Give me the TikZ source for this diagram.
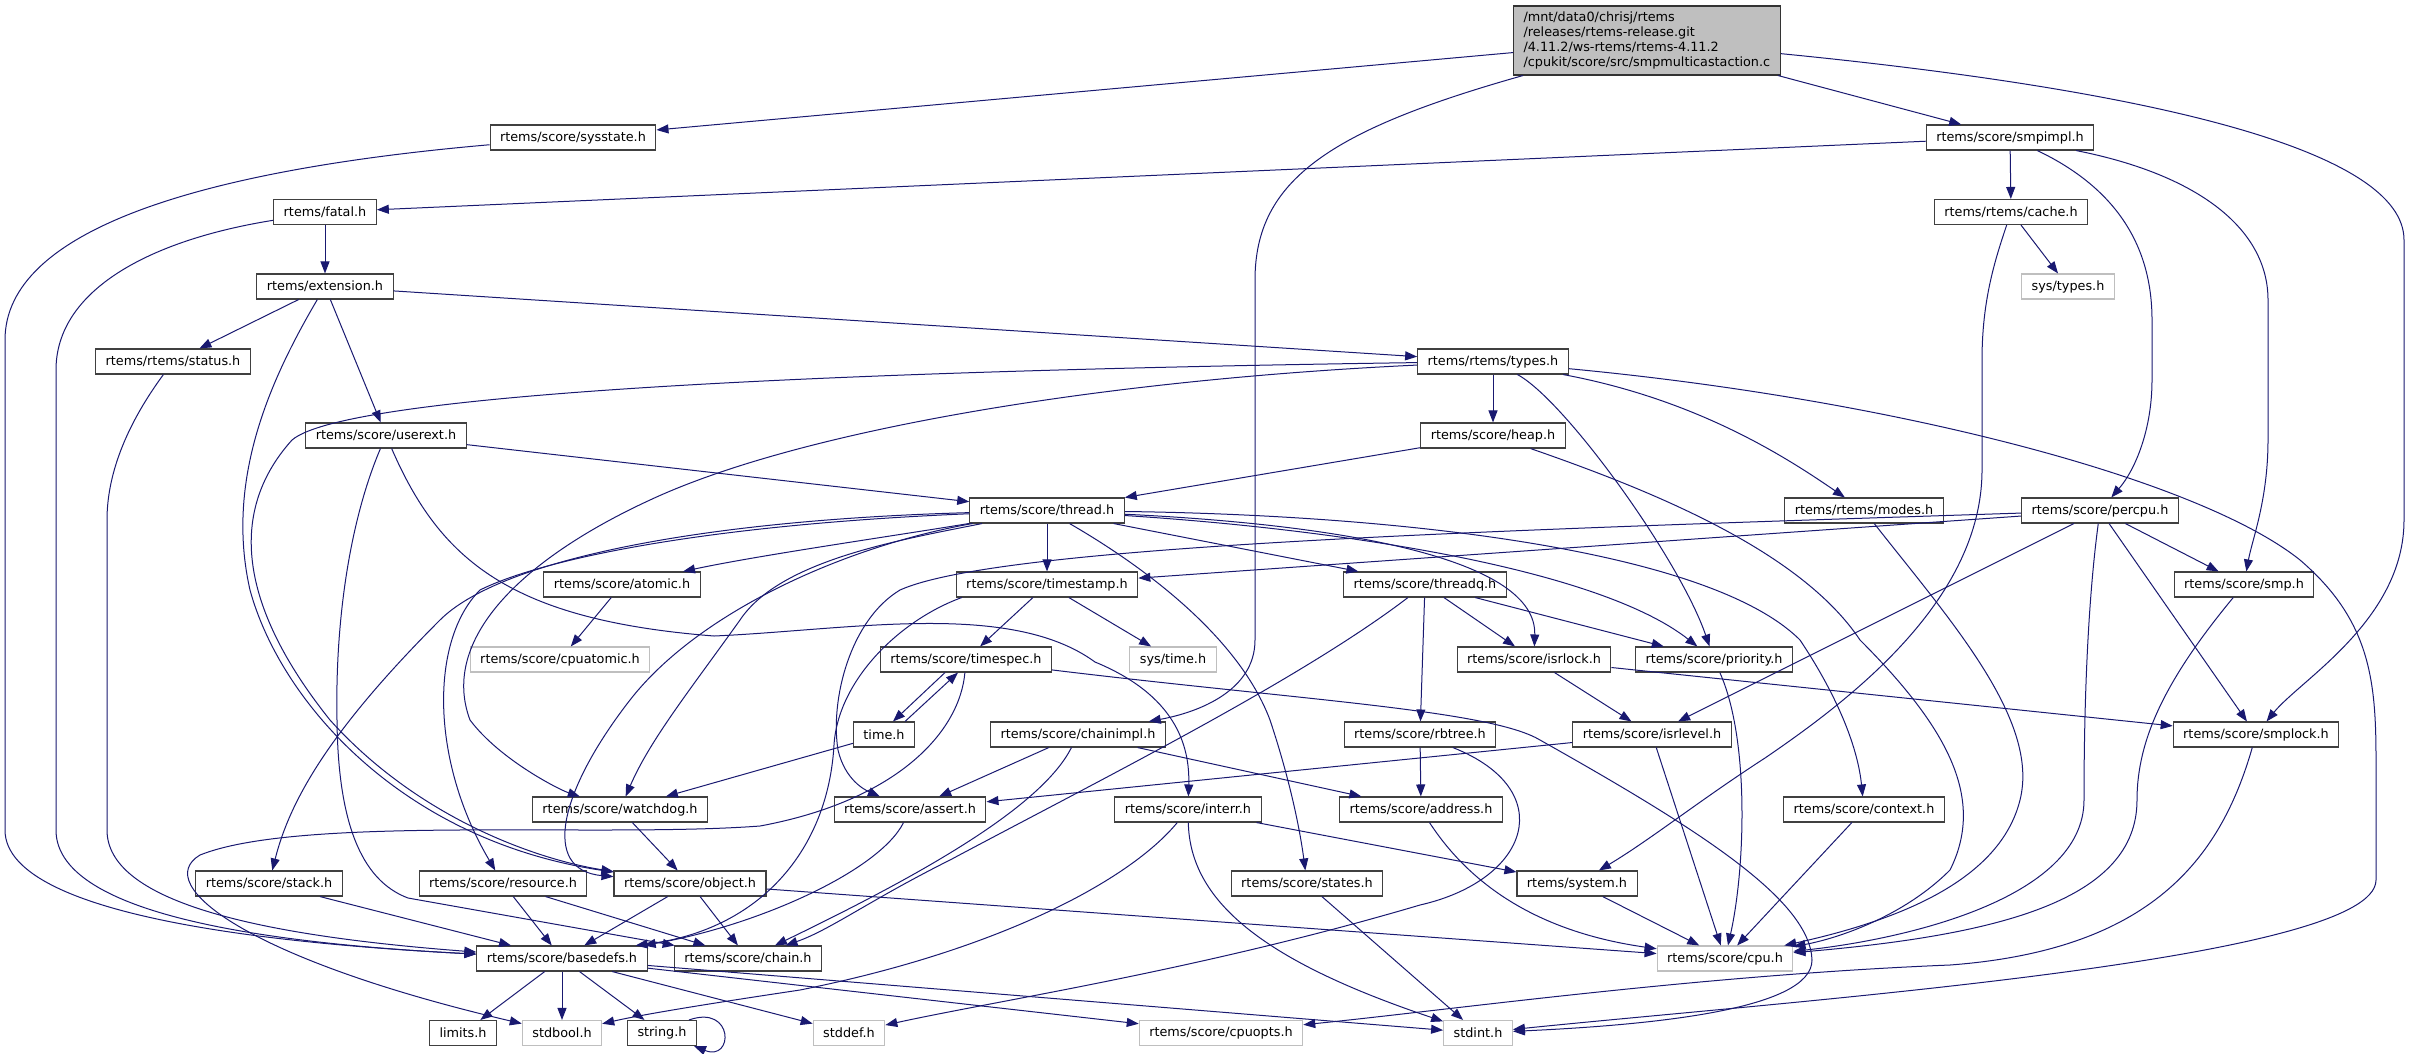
\documentclass[tikz,border=0pt]{standalone}
\usepackage{fontspec}
\setmainfont{DejaVu Sans}
\usepackage{xcolor}
\usepackage{tikz}
\usetikzlibrary{arrows.meta}
\definecolor{edgeblue}{RGB}{25,25,112}
\begin{document}
\begin{tikzpicture}[x=1pt,y=-1pt,
every node/.style={font=\fontsize{12.8}{15}\selectfont, inner xsep=10pt, inner ysep=0pt, minimum height=25pt},
file/.style={rectangle, draw=black!75, line width=1.1pt, fill=white},
extfile/.style={rectangle, draw=gray!50, line width=1.1pt, fill=white},
srcfile/.style={rectangle, draw=black!80, line width=1.1pt, fill=gray!50, align=left, text width=247pt, minimum height=69pt},
dep/.style={draw=edgeblue, line width=1pt, -{Triangle[length=12pt,width=9pt]}}]
\useasboundingbox (0,0) rectangle (2409,1053);
\node[srcfile] (main) at (1647,40.5) {/mnt/data0/chrisj/rtems\\/releases/rtems-release.git\\/4.11.2/ws-rtems/rtems-4.11.2\\/cpukit/score/src/smpmulticastaction.c};
\node[file] (sysstate) at (573,137.5) {rtems/score/sysstate.h};
\node[file] (smpimpl) at (2010,137.5) {rtems/score/smpimpl.h};
\node[file] (fatal) at (325,212) {rtems/fatal.h};
\node[file] (cache) at (2011,212) {rtems/rtems/cache.h};
\node[extfile] (systypes) at (2068,286.5) {sys/types.h};
\node[file] (extension) at (325,286.5) {rtems/extension.h};
\node[file] (status) at (173,361.5) {rtems/rtems/status.h};
\node[file] (types) at (1493,361.5) {rtems/rtems/types.h};
\node[file] (userext) at (386,435.5) {rtems/score/userext.h};
\node[file] (heap) at (1493,435.5) {rtems/score/heap.h};
\node[file] (thread) at (1047,510.5) {rtems/score/thread.h};
\node[file] (modes) at (1864,510.5) {rtems/rtems/modes.h};
\node[file] (percpu) at (2100,510.5) {rtems/score/percpu.h};
\node[file] (atomic) at (622,584.5) {rtems/score/atomic.h};
\node[file] (timestamp) at (1047,584.5) {rtems/score/timestamp.h};
\node[file] (threadq) at (1425,584.5) {rtems/score/threadq.h};
\node[file] (smp) at (2244,584.5) {rtems/score/smp.h};
\node[extfile] (cpuatomic) at (560,659.5) {rtems/score/cpuatomic.h};
\node[file] (timespec) at (966,659.5) {rtems/score/timespec.h};
\node[extfile] (systime) at (1173,659.5) {sys/time.h};
\node[file] (isrlock) at (1534,659.5) {rtems/score/isrlock.h};
\node[file] (priority) at (1714,659.5) {rtems/score/priority.h};
\node[file] (timeh) at (884,734.5) {time.h};
\node[file] (chainimpl) at (1078,734.5) {rtems/score/chainimpl.h};
\node[file] (rbtree) at (1420,734.5) {rtems/score/rbtree.h};
\node[file] (isrlevel) at (1652,734.5) {rtems/score/isrlevel.h};
\node[file] (smplock) at (2256,734.5) {rtems/score/smplock.h};
\node[file] (watchdog) at (620,809.5) {rtems/score/watchdog.h};
\node[file] (assert) at (910,809.5) {rtems/score/assert.h};
\node[file] (interr) at (1188,809.5) {rtems/score/interr.h};
\node[file] (address) at (1421,809.5) {rtems/score/address.h};
\node[file] (context) at (1864,809.5) {rtems/score/context.h};
\node[file] (stack) at (269,883.5) {rtems/score/stack.h};
\node[file] (resource) at (503,883.5) {rtems/score/resource.h};
\node[file] (object) at (690,883.5) {rtems/score/object.h};
\node[file] (states) at (1307,883.5) {rtems/score/states.h};
\node[file] (system) at (1577,883.5) {rtems/system.h};
\node[file] (basedefs) at (562,958.5) {rtems/score/basedefs.h};
\node[file] (chain) at (748,958.5) {rtems/score/chain.h};
\node[extfile] (cpu) at (1725,958.5) {rtems/score/cpu.h};
\node[file] (limits) at (463,1033) {limits.h};
\node[extfile] (stdbool) at (562,1033) {stdbool.h};
\node[file] (stringh) at (662,1033) {string.h};
\node[extfile] (stddef) at (849,1033) {stddef.h};
\node[extfile] (cpuopts) at (1221,1033) {rtems/score/cpuopts.h};
\node[extfile] (stdint) at (1478,1033) {stdint.h};

\draw[dep] (main) -- (sysstate);
\draw[dep] (main) -- (smpimpl);
\draw[dep] (main) .. controls (1330,130) and (1255,180) .. (1255,280) -- (1255,640) .. controls (1255,690) and (1200,712) .. (chainimpl);
\draw[dep] (main) .. controls (2150,90) and (2404,150) .. (2404,240) -- (2404,520) .. controls (2404,620) and (2300,680) .. (smplock);
\draw[dep] (sysstate) .. controls (200,170) and (5,230) .. (5,340) -- (5,830) .. controls (5,920) and (300,945) .. (basedefs);
\draw[dep] (smpimpl) -- (fatal);
\draw[dep] (smpimpl) -- (cache);
\draw[dep] (smpimpl) .. controls (2120,190) and (2152,250) .. (2152,320) -- (2152,380) .. controls (2152,430) and (2135,470) .. (percpu);
\draw[dep] (smpimpl) .. controls (2200,175) and (2268,230) .. (2268,300) -- (2268,440) .. controls (2268,500) and (2252,540) .. (smp);
\draw[dep] (cache) -- (systypes);
\draw[dep] (cache) .. controls (1995,260) and (1982,300) .. (1982,360) -- (1982,470) .. controls (1982,600) and (1850,700) .. (1765,758) .. controls (1700,800) and (1650,840) .. (system);
\draw[dep] (fatal) -- (extension);
\draw[dep] (fatal) .. controls (150,240) and (56,290) .. (56,370) -- (56,830) .. controls (56,900) and (200,940) .. (basedefs);
\draw[dep] (extension) -- (status);
\draw[dep] (extension) -- (userext);
\draw[dep] (extension) -- (types);
\draw[dep] (extension) .. controls (270,380) and (225,480) .. (250,590) .. controls (280,700) and (400,840) .. (object);
\draw[dep] (status) .. controls (130,420) and (107,470) .. (107,520) -- (107,830) .. controls (107,900) and (250,935) .. (basedefs);
\draw[dep] (types) -- (heap);
\draw[dep] (types) .. controls (1700,400) and (1790,460) .. (modes);
\draw[dep] (types) .. controls (1565,400) and (1680,560) .. (priority);
\draw[dep] (types) .. controls (1900,400) and (2200,480) .. (2300,560) .. controls (2370,620) and (2376,680) .. (2376,760) -- (2376,880) .. controls (2376,960) and (1800,1000) .. (stdint);
\draw[dep] (types) .. controls (900,370) and (350,390) .. (292,440) .. controls (220,520) and (250,620) .. (330,720) .. controls (420,820) and (540,860) .. (object);
\draw[dep] (types) .. controls (1100,380) and (800,430) .. (650,500) .. controls (520,560) and (440,640) .. (470,720) .. controls (500,760) and (560,790) .. (watchdog);
\draw[dep] (heap) -- (thread);
\draw[dep] (heap) .. controls (1650,490) and (1800,550) .. (1860,640) .. controls (1950,730) and (1985,800) .. (1950,870) .. controls (1900,920) and (1830,940) .. (cpu);
\draw[dep] (modes) .. controls (1950,620) and (2040,720) .. (2020,800) .. controls (2000,880) and (1900,920) .. (cpu);
\draw[dep] (percpu) -- (timestamp);
\draw[dep] (percpu) .. controls (1500,530) and (1000,545) .. (900,590) .. controls (850,620) and (830,700) .. (838,750) .. controls (845,780) and (865,790) .. (assert);
\draw[dep] (percpu) -- (isrlevel);
\draw[dep] (percpu) -- (smp);
\draw[dep] (percpu) -- (smplock);
\draw[dep] (percpu) .. controls (2088,600) and (2084,700) .. (2084,800) .. controls (2084,900) and (1900,940) .. (cpu);
\draw[dep] (smp) .. controls (2165,680) and (2137,740) .. (2137,800) .. controls (2137,900) and (2000,935) .. (cpu);
\draw[dep] (smplock) .. controls (2220,860) and (2150,950) .. (1950,965) .. controls (1700,975) and (1450,1010) .. (cpuopts);
\draw[dep] (thread) .. controls (900,535) and (760,555) .. (atomic);
\draw[dep] (thread) -- (timestamp);
\draw[dep] (thread) -- (threadq);
\draw[dep] (thread) .. controls (1150,570) and (1240,640) .. (1270,720) .. controls (1290,780) and (1300,830) .. (states);
\draw[dep] (thread) .. controls (1350,525) and (1537,560) .. (isrlock);
\draw[dep] (thread) .. controls (1350,530) and (1600,570) .. (priority);
\draw[dep] (thread) .. controls (1400,515) and (1710,550) .. (1800,640) .. controls (1840,700) and (1858,750) .. (context);
\draw[dep] (thread) .. controls (700,520) and (500,560) .. (440,620) .. controls (330,730) and (290,800) .. (stack);
\draw[dep] (thread) .. controls (700,525) and (540,560) .. (480,590) .. controls (430,640) and (430,760) .. (resource);
\draw[dep] (thread) .. controls (900,540) and (780,560) .. (740,620) .. controls (690,690) and (650,740) .. (watchdog);
\draw[dep] (thread) .. controls (850,545) and (700,610) .. (630,700) .. controls (560,790) and (540,870) .. (object);
\draw[dep] (atomic) -- (cpuatomic);
\draw[dep] (timestamp) -- (timespec);
\draw[dep] (timestamp) -- (systime);
\draw[dep] ([xshift=6pt]timestamp.south west) .. controls (900,620) and (838,680) .. (834,745) .. controls (828,850) and (760,930) .. ([xshift=-12pt]basedefs.north east);
\draw[dep] ([xshift=-21pt]timespec.south) -- ([xshift=9pt]timeh.north);
\draw[dep] ([xshift=21pt]timeh.north) -- ([xshift=-8pt]timespec.south);
\draw[dep] (timespec) .. controls (960,730) and (900,800) .. (760,826) .. controls (600,838) and (300,815) .. (200,855) .. controls (150,885) and (250,960) .. (stdbool);
\draw[dep] (timespec) .. controls (1300,700) and (1490,710) .. (1540,740) .. controls (1700,830) and (1810,900) .. (1812,960) .. controls (1812,1010) and (1650,1025) .. (stdint);
\draw[dep] (timeh) -- (watchdog);
\draw[dep] (chainimpl) -- (assert);
\draw[dep] (chainimpl) -- (address);
\draw[dep] (chainimpl) .. controls (1040,810) and (910,880) .. (chain);
\draw[dep] (threadq) .. controls (1300,680) and (1100,780) .. (950,860) .. controls (870,900) and (830,930) .. (chain);
\draw[dep] (threadq) -- (rbtree);
\draw[dep] (threadq) -- (isrlock);
\draw[dep] (threadq) -- (priority);
\draw[dep] (isrlock) -- (isrlevel);
\draw[dep] (isrlock) -- (smplock);
\draw[dep] (rbtree) -- (address);
\draw[dep] (rbtree) .. controls (1560,790) and (1530,880) .. (1420,905) .. controls (1200,970) and (1000,1000) .. (stddef);
\draw[dep] (isrlevel) -- (assert);
\draw[dep] (isrlevel) -- (cpu);
\draw[dep] (priority) .. controls (1750,740) and (1745,870) .. (cpu);
\draw[dep] (context) -- (cpu);
\draw[dep] (system) -- (cpu);
\draw[dep] (address) .. controls (1480,900) and (1560,935) .. (cpu);
\draw[dep] (object) -- (cpu);
\draw[dep] (interr) -- (system);
\draw[dep] (interr) .. controls (1130,880) and (1000,950) .. (800,990) .. controls (700,1005) and (640,1015) .. (stdbool);
\draw[dep] (interr) .. controls (1190,900) and (1260,960) .. (stdint);
\draw[dep] (states) -- (stdint);
\draw[dep] (userext) -- (thread);
\draw[dep] (userext) .. controls (350,520) and (335,620) .. (337,720) .. controls (338,820) and (360,880) .. (408,898) -- (chain);
\draw[dep] (userext) .. controls (440,560) and (510,620) .. (714,636) .. controls (850,630) and (1010,600) .. (1095,662) .. controls (1175,695) and (1190,745) .. (interr);
\draw[dep] (object) -- (basedefs);
\draw[dep] (object) -- (chain);
\draw[dep] (resource) -- (basedefs);
\draw[dep] (resource) -- (chain);
\draw[dep] (stack) -- (basedefs);
\draw[dep] (watchdog) -- (object);
\draw[dep] (assert) .. controls (880,870) and (760,925) .. ([xshift=-4pt]basedefs.north east);
\draw[dep] (basedefs) -- (limits);
\draw[dep] (basedefs) -- (stdbool);
\draw[dep] (basedefs) -- (stringh);
\draw[dep] (basedefs) -- (stddef);
\draw[dep] (basedefs) -- (cpuopts);
\draw[dep] (basedefs) -- (stdint);
\draw[dep] ([xshift=-8pt]stringh.north east) .. controls +(45,-16) and +(40,16) .. ([xshift=-3pt]stringh.south east);
\end{tikzpicture}
\end{document}
